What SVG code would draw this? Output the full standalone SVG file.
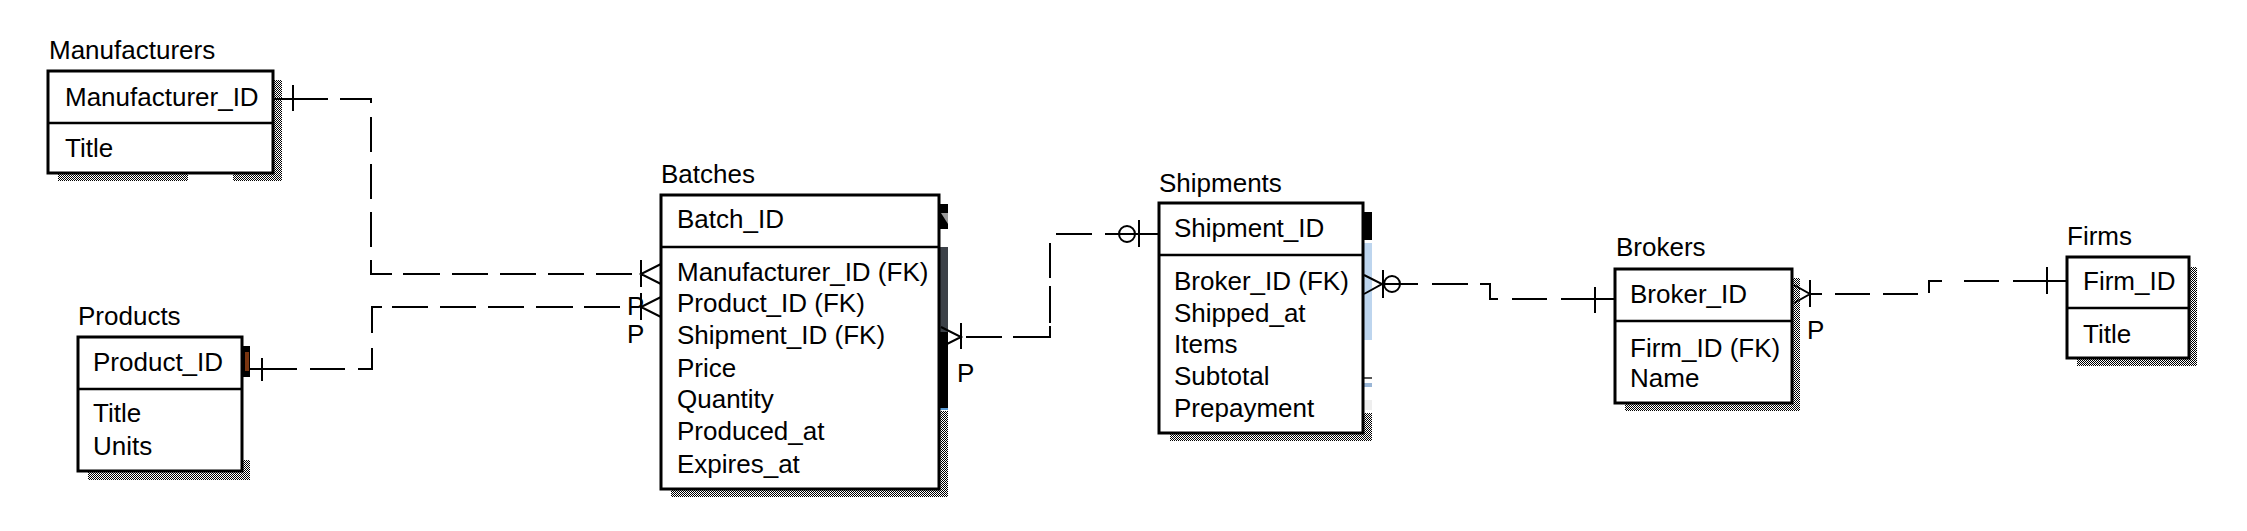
<svg xmlns="http://www.w3.org/2000/svg" width="2247" height="531" viewBox="0 0 2247 531">
<defs>
<pattern id="chk" width="2" height="2" patternUnits="userSpaceOnUse">
<rect width="2" height="2" fill="#fff"/>
<rect width="1" height="1" fill="#000"/>
<rect x="1" y="1" width="1" height="1" fill="#000"/>
</pattern>
<style>
.box{fill:#fff;stroke:#000;stroke-width:3}
.dv{stroke:#000;stroke-width:2.5;fill:none}
.t{font-family:"Liberation Sans",Arial,sans-serif;font-size:26px;fill:#000}
.c{fill:none;stroke:#000;stroke-width:2}
.sh{fill:url(#chk)}
</style>
</defs>
<rect width="2247" height="531" fill="#fff"/>

<g id="manufacturers">
<rect class="sh" x="273" y="80" width="9" height="101"/>
<rect class="sh" x="58" y="173" width="130" height="8"/>
<rect class="sh" x="233" y="173" width="49" height="8"/>
<text class="t" x="49" y="59">Manufacturers</text>
<rect class="box" x="48" y="71" width="225" height="102"/>
<line class="dv" x1="48" y1="123" x2="273" y2="123"/>
<text class="t" x="65" y="106">Manufacturer_ID</text>
<text class="t" x="65" y="157">Title</text>
</g>

<g id="products">
<rect class="sh" x="242" y="460" width="8" height="20"/>
<rect class="sh" x="88" y="471" width="162" height="9"/>
<rect x="242" y="346" width="8" height="31" fill="#000"/>
<rect x="245" y="352" width="4" height="19" fill="#7a3510"/>
<text class="t" x="78" y="325">Products</text>
<rect class="box" x="78" y="337" width="164" height="134"/>
<line class="dv" x1="78" y1="389" x2="242" y2="389"/>
<text class="t" x="93" y="371">Product_ID</text>
<text class="t" x="93" y="422">Title</text>
<text class="t" x="93" y="455">Units</text>
</g>

<g id="batches">
<rect x="939" y="204" width="9" height="25" fill="#000"/>
<polygon points="941,213 948,213 948,224" fill="#9a9a9a"/>
<rect x="939" y="247" width="9" height="85" fill="#3c4148"/>
<rect x="939" y="332" width="9" height="76" fill="#000"/>
<rect x="939" y="408" width="9" height="2" fill="#5b9bd5"/>
<rect class="sh" x="939" y="411" width="9" height="86"/>
<rect class="sh" x="671" y="489" width="277" height="8"/>
<text class="t" x="661" y="183">Batches</text>
<rect class="box" x="661" y="195" width="278" height="294"/>
<line class="dv" x1="661" y1="247" x2="939" y2="247"/>
<text class="t" x="677" y="228">Batch_ID</text>
<text class="t" x="677" y="281">Manufacturer_ID (FK)</text>
<text class="t" x="677" y="312">Product_ID (FK)</text>
<text class="t" x="677" y="344">Shipment_ID (FK)</text>
<text class="t" x="677" y="377">Price</text>
<text class="t" x="677" y="408">Quantity</text>
<text class="t" x="677" y="440">Produced_at</text>
<text class="t" x="677" y="473">Expires_at</text>
</g>

<g id="shipments">
<rect x="1363" y="212" width="9" height="28" fill="#000"/>
<rect x="1363" y="243" width="9" height="97" fill="#bdd5ee"/>
<rect x="1363" y="377" width="9" height="2" fill="#555"/>
<rect x="1363" y="383" width="9" height="4" fill="#9ab6d6"/>
<rect x="1363" y="400" width="9" height="10" fill="#eeeeee"/>
<rect class="sh" x="1363" y="413" width="9" height="28"/>
<rect class="sh" x="1170" y="433" width="202" height="8"/>
<text class="t" x="1159" y="192">Shipments</text>
<rect class="box" x="1159" y="203" width="204" height="230"/>
<line class="dv" x1="1159" y1="255" x2="1363" y2="255"/>
<text class="t" x="1174" y="237">Shipment_ID</text>
<text class="t" x="1174" y="290">Broker_ID (FK)</text>
<text class="t" x="1174" y="322">Shipped_at</text>
<text class="t" x="1174" y="353">Items</text>
<text class="t" x="1174" y="385">Subtotal</text>
<text class="t" x="1174" y="417">Prepayment</text>
</g>

<g id="brokers">
<rect class="sh" x="1792" y="278" width="8" height="133"/>
<rect class="sh" x="1625" y="403" width="175" height="8"/>
<text class="t" x="1616" y="256">Brokers</text>
<rect class="box" x="1615" y="269" width="177" height="134"/>
<line class="dv" x1="1615" y1="321" x2="1792" y2="321"/>
<text class="t" x="1630" y="303">Broker_ID</text>
<text class="t" x="1630" y="357">Firm_ID (FK)</text>
<text class="t" x="1630" y="387">Name</text>
</g>

<g id="firms">
<rect class="sh" x="2189" y="267" width="8" height="99"/>
<rect class="sh" x="2077" y="358" width="120" height="8"/>
<text class="t" x="2067" y="245">Firms</text>
<rect class="box" x="2067" y="257" width="122" height="101"/>
<line class="dv" x1="2067" y1="308" x2="2189" y2="308"/>
<text class="t" x="2083" y="290">Firm_ID</text>
<text class="t" x="2083" y="343">Title</text>
</g>

<g id="connectors">
<!-- Manufacturers -> Batches -->
<path class="c" d="M273,99 H328 M293,85 V111 M340,99 H371 V103 M371,117 V152 M371,164 V199 M371,212 V247 M371,260 V274 H392 M403,274 H440 M452,274 H488 M500,274 H536 M548,274 H584 M596,274 H632 M641,260 V287 M661,264 L641,274 L661,284"/>
<!-- Products -> Batches -->
<path class="c" d="M250,369 H297 M262,358 V381 M310,369 H345 M358,369 H372 V348 M372,333 V307 H382 M392,307 H428 M440,307 H476 M488,307 H524 M536,307 H573 M584,307 H620 M641,293 V320 M661,297 L641,307 L661,317"/>
<!-- Batches -> Shipments -->
<path class="c" d="M941,327 L961,337 L941,347 M961,323 V349 M966,337 H1002 M1013,337 H1050 V326 M1050,323 V286 M1050,278 V243 M1056,234 H1092 M1105,234 H1159 M1139,220 V247"/>
<circle class="c" cx="1127" cy="234" r="8"/>
<!-- Shipments -> Brokers -->
<path class="c" d="M1364,275 L1382,284 L1364,294 M1383,270 V298 M1383,284 H1418 M1432,284 H1468 M1480,284 H1490 V299 H1498 M1512,299 H1547 M1561,299 H1615 M1595,287 V313"/>
<circle class="c" cx="1392" cy="284" r="8"/>
<!-- Brokers -> Firms -->
<path class="c" d="M1794,285 L1810,294 L1794,303 M1810,280 V307 M1810,294 H1822 M1835,294 H1870 M1883,294 H1918 M1929,293 V281 H1942 M1964,281 H1999 M2013,281 H2067 M2047,267 V294"/>
<text class="t" x="627" y="315">P</text>
<text class="t" x="627" y="343">P</text>
<text class="t" x="957" y="382">P</text>
<text class="t" x="1807" y="339">P</text>
</g>
</svg>
